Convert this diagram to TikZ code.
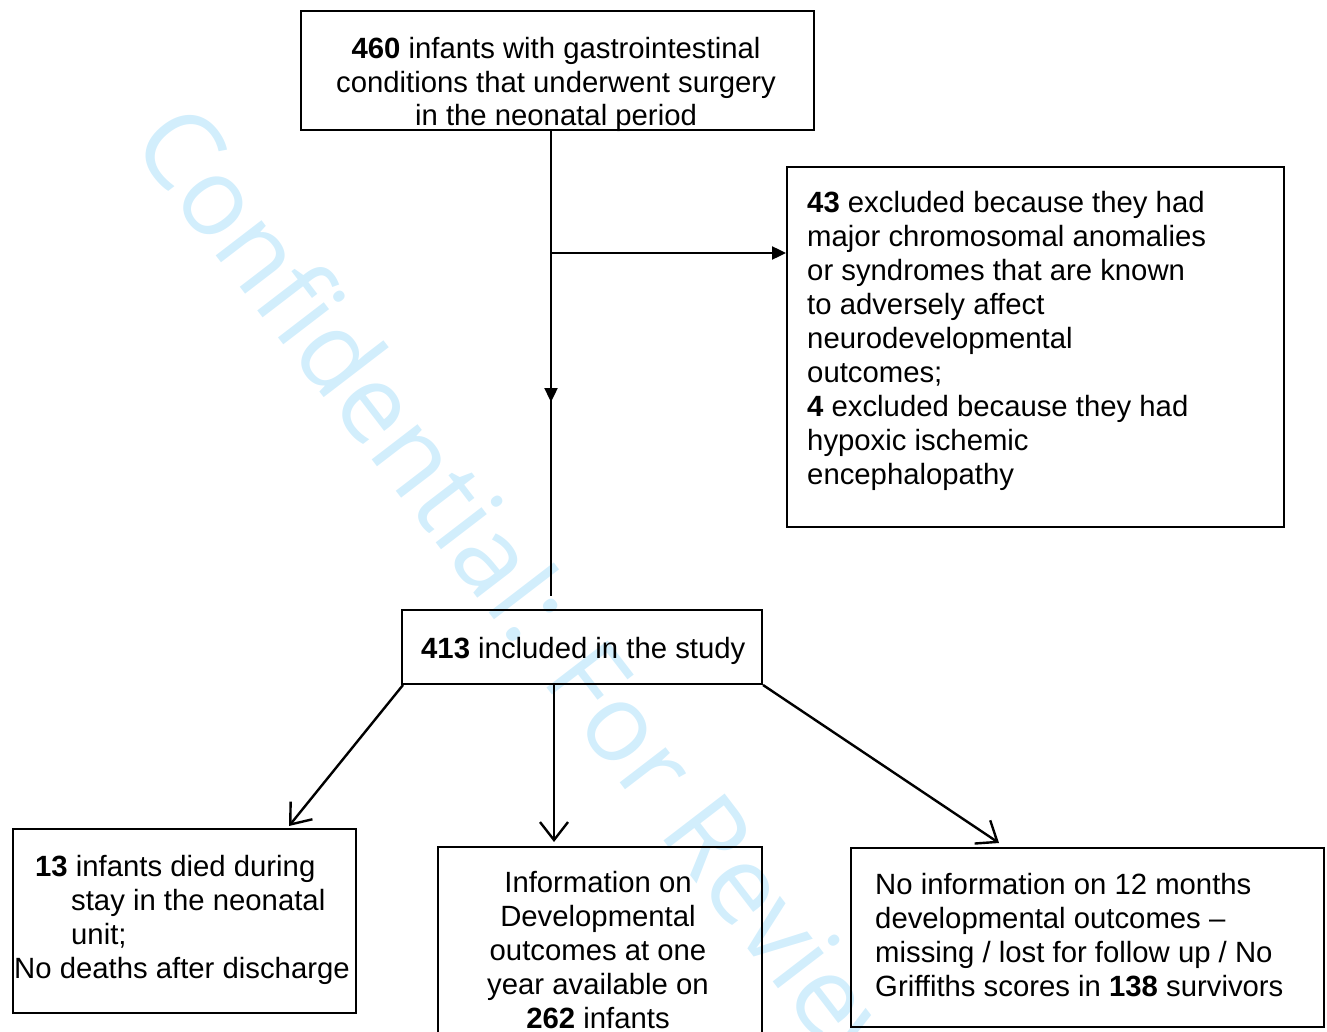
\documentclass[tikz,border=0pt]{standalone}
\usepackage{fontspec}
\setmainfont{Liberation Sans}
\newfontfamily\wmfont{Open Sans}
\usetikzlibrary{arrows.meta,calc}
\definecolor{wmblue}{RGB}{210,238,252}
\tikzset{
  box/.style={draw=black, line width=2pt, inner sep=0pt, anchor=north west, fill=none},
  txt/.style={inner sep=0pt, font=\fontsize{29.3}{33.9}\selectfont},
  conn/.style={line width=2.4pt},
  barb/.style={conn, -{Straight Barb[length=18pt,width=28pt,line width=2.4pt]}},
  tri/.style={conn, -{Triangle[length=14pt,width=13pt]}},
}
\begin{document}
\begin{tikzpicture}[x=1pt,y=-1pt]
\useasboundingbox (0,0) rectangle (1327,1032);
% watermark
\begin{scope}
\clip (0,0) rectangle (1327,1032);
\node[inner sep=0pt, anchor=base west, rotate=-52.5, text=wmblue,
      font=\wmfont\fontsize{108}{108}\selectfont] (wm) at (129,143) {Confidential: For Review Only};
\end{scope}
% boxes
\node[box, minimum width=513pt, minimum height=119pt] (top) at (300,10) {};
\node[box, minimum width=497pt, minimum height=360pt] (excl) at (786,166) {};
\node[box, minimum width=360pt, minimum height=74pt] (incl) at (401,609) {};
\node[box, minimum width=343pt, minimum height=184pt] (died) at (12,828) {};
\node[box, minimum width=324pt, minimum height=200pt] (info) at (437,846) {};
\node[box, minimum width=473pt, minimum height=179pt] (noinfo) at (850,847) {};
% texts (base anchor = baseline of the last line)
\node[txt, align=center, anchor=base] (ttop) at (556,126)
  {\textbf{460} infants with gastrointestinal\\conditions that underwent surgery\\in the neonatal period};
\node[txt, align=left, anchor=base west] (texcl) at (807,484)
  {\textbf{43} excluded because they had\\major chromosomal anomalies\\or syndromes that are known\\to adversely affect\\neurodevelopmental\\outcomes;\\\textbf{4} excluded because they had\\hypoxic ischemic\\encephalopathy};
\node[txt, anchor=base west] (tincl) at (421,658) {\textbf{413} included in the study};
\node[txt, align=left, anchor=base west] (tdied) at (14,978)
  {\hspace*{21pt}\textbf{13} infants died during\\\hspace*{57pt}stay in the neonatal\\\hspace*{57pt}unit;\\No deaths after discharge};
\node[txt, align=center, anchor=base] (tinfo) at (598,1028)
  {Information on\\Developmental\\outcomes at one\\year available on\\\textbf{262} infants};
\node[txt, align=left, anchor=base west] (tnoinfo) at (875,996)
  {No information on 12 months\\developmental outcomes \textendash\\missing / lost for follow up / No\\Griffiths scores in \textbf{138} survivors};
% connectors
\coordinate (split) at (551,253);
\coordinate (vmid) at (551,402);
\coordinate (vend) at (551,596);
\draw[conn] (top.south -| split) -- (vend);
\draw[tri] (top.south -| split) -- (vmid);
\draw[tri] (split) -- (excl.west |- split);
\draw[barb] ($(incl.south west)+(2,0)$) -- ($(died.north west)+(277,-2)$);
\draw[barb] ($(incl.south west)+(153,0)$) -- ($(info.north west)+(117,-4)$);
\draw[barb] (incl.south east) -- ($(noinfo.north west)+(149,-4)$);
\end{tikzpicture}
\end{document}
